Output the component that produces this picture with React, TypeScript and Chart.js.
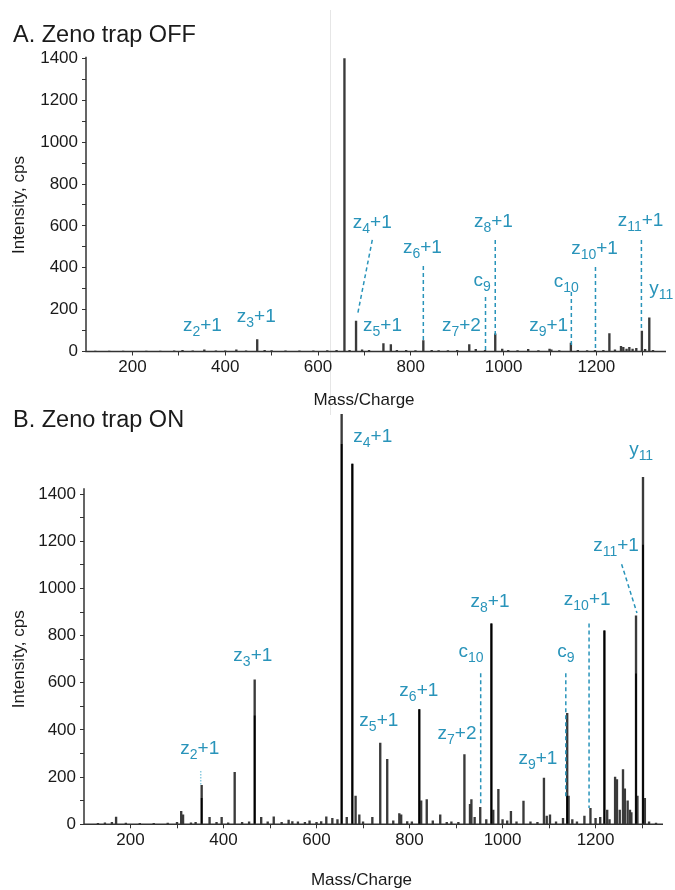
import React, { useEffect, useRef } from 'react';
import { Chart, registerables } from 'chart.js';

Chart.register(...registerables);

const FONT = '"Liberation Sans", Arial, Helvetica, sans-serif';
const TEAL = '#2994ba';
const TEAL_LIGHT = '#8ccbe0';
const TEXT = '#1a1a1a';
const AXIS = '#333333';

// ---------- Panel A: Zeno trap OFF ----------
const offMz = [120, 150, 180, 230, 260, 290, 308, 330, 355, 380, 400, 424, 445, 469, 485, 500, 530, 560, 590, 620, 640, 657, 668, 682, 695, 710, 741, 757, 770, 790, 810, 827, 845, 860, 880, 900, 926, 940, 960, 982, 997, 1010, 1030, 1053, 1075, 1099, 1103, 1120, 1145, 1160, 1180, 1197, 1215, 1228, 1240, 1253, 1258, 1265, 1271, 1278, 1286, 1298, 1305, 1314, 1322];
const offIntensity = [2, 2, 2, 2, 2, 3, 5, 3, 8, 3, 3, 8, 3, 57, 5, 4, 3, 3, 3, 4, 5, 1400, 6, 145, 8, 5, 38, 33, 6, 5, 4, 52, 6, 4, 4, 5, 33, 10, 6, 84, 12, 5, 4, 10, 4, 12, 8, 4, 40, 5, 4, 6, 6, 86, 8, 25, 20, 12, 20, 12, 15, 97, 10, 161, 6];

// ---------- Panel B: Zeno trap ON ----------
const onMz = [130, 145, 160, 169, 190, 220, 250, 280, 300, 309, 313, 330, 340, 353, 370, 385, 396, 410, 424, 440, 455, 467, 481, 495, 508, 525, 540, 548, 560, 575, 585, 600, 610, 621, 634, 645, 654, 665, 677, 684, 692, 700, 720, 737, 752, 765, 778, 782, 795, 805, 821, 825, 837, 850, 866, 880, 890, 905, 918, 930, 933, 940, 952, 965, 976, 980, 991, 1000, 1010, 1018, 1030, 1045, 1060, 1075, 1089, 1095, 1102, 1115, 1130, 1139, 1142, 1150, 1160, 1176, 1189, 1200, 1210, 1219, 1225, 1230, 1242, 1246, 1252, 1259, 1263, 1269, 1274, 1277, 1287, 1290, 1302, 1306, 1315, 1330];
const onIntensity = [4, 6, 8, 31, 5, 4, 4, 5, 8, 55, 40, 6, 8, 165, 30, 8, 30, 6, 220, 8, 10, 613, 30, 10, 32, 8, 18, 12, 10, 8, 15, 8, 12, 32, 25, 20, 1738, 30, 1527, 120, 40, 10, 30, 344, 275, 15, 45, 40, 12, 10, 486, 100, 105, 15, 40, 8, 10, 8, 296, 85, 105, 30, 72, 20, 850, 60, 148, 20, 15, 55, 10, 98, 10, 8, 196, 35, 40, 10, 25, 470, 120, 20, 10, 35, 68, 25, 30, 820, 60, 20, 200, 190, 60, 232, 150, 100, 60, 50, 884, 120, 1471, 110, 10, 5];
// darker cores of the strongest profile peaks
const onCoreMz = [353, 467, 654, 677, 821, 976, 1139, 1219, 1287, 1302];
const onCoreIntensity = [110, 460, 1611, 1527, 486, 850, 120, 820, 638, 1184];

// ---------- ticks ----------
const xTicks = [200, 300, 400, 500, 600, 700, 800, 900, 1000, 1100, 1200, 1300];
const xTickLabels = [200, 400, 600, 800, 1000, 1200];
const yTicks = [0, 100, 200, 300, 400, 500, 600, 700, 800, 900, 1000, 1100, 1200, 1300, 1400];
const yTickLabels = [0, 200, 400, 600, 800, 1000, 1200, 1400];

// ---------- annotations ----------
type Ann = { base: string; sub: string; suffix: string; mz: number; at: number };
type Leader = { mz1: number; v1: number; mz2: number; v2: number; dotted?: boolean };

const offLabels: Ann[] = [
  { base: 'z', sub: '2', suffix: '+1', mz: 351, at: 117 },
  { base: 'z', sub: '3', suffix: '+1', mz: 467, at: 160 },
  { base: 'z', sub: '4', suffix: '+1', mz: 717, at: 609 },
  { base: 'z', sub: '5', suffix: '+1', mz: 739, at: 117 },
  { base: 'z', sub: '6', suffix: '+1', mz: 825, at: 490 },
  { base: 'z', sub: '7', suffix: '+2', mz: 909, at: 117 },
  { base: 'c', sub: '9', suffix: '', mz: 954, at: 332 },
  { base: 'z', sub: '8', suffix: '+1', mz: 978, at: 614 },
  { base: 'z', sub: '9', suffix: '+1', mz: 1097, at: 117 },
  { base: 'c', sub: '10', suffix: '', mz: 1135, at: 327 },
  { base: 'z', sub: '10', suffix: '+1', mz: 1196, at: 485 },
  { base: 'z', sub: '11', suffix: '+1', mz: 1295, at: 619 },
  { base: 'y', sub: '11', suffix: '', mz: 1340, at: 294 },
];
const offLeaders: Leader[] = [
  { mz1: 717, v1: 533, mz2: 685, v2: 174 },
  { mz1: 827, v1: 408, mz2: 827, v2: 55 },
  { mz1: 961, v1: 260, mz2: 961, v2: 7 },
  { mz1: 982, v1: 533, mz2: 982, v2: 79 },
  { mz1: 1146, v1: 284, mz2: 1146, v2: 31 },
  { mz1: 1198, v1: 404, mz2: 1198, v2: 7 },
  { mz1: 1297, v1: 533, mz2: 1297, v2: 103 },
];

const onLabels: Ann[] = [
  { base: 'z', sub: '2', suffix: '+1', mz: 349, at: 314 },
  { base: 'z', sub: '3', suffix: '+1', mz: 463, at: 708 },
  { base: 'z', sub: '4', suffix: '+1', mz: 721, at: 1636 },
  { base: 'z', sub: '5', suffix: '+1', mz: 734, at: 432 },
  { base: 'z', sub: '6', suffix: '+1', mz: 820, at: 560 },
  { base: 'z', sub: '7', suffix: '+2', mz: 902, at: 377 },
  { base: 'c', sub: '10', suffix: '', mz: 932, at: 725 },
  { base: 'z', sub: '8', suffix: '+1', mz: 973, at: 939 },
  { base: 'z', sub: '9', suffix: '+1', mz: 1076, at: 272 },
  { base: 'c', sub: '9', suffix: '', mz: 1136, at: 728 },
  { base: 'z', sub: '10', suffix: '+1', mz: 1182, at: 947 },
  { base: 'z', sub: '11', suffix: '+1', mz: 1244, at: 1175 },
  { base: 'y', sub: '11', suffix: '', mz: 1298, at: 1581 },
];
const onLeaders: Leader[] = [
  { mz1: 1256, v1: 1103, mz2: 1289, v2: 896 },
  { mz1: 1186, v1: 851, mz2: 1186, v2: 69 },
  { mz1: 953, v1: 640, mz2: 953, v2: 82 },
  { mz1: 1136, v1: 640, mz2: 1136, v2: 116 },
  { mz1: 351, v1: 226, mz2: 351, v2: 166, dotted: true },
];

type PanelProps = {
  title: string;
  titleY: number;
  top: number;
  height: number;
  mz: number[];
  inten: number[];
  coreMz: number[];
  coreInten: number[];
  xMax: number;
  yMax: number;
  yAxisTop: number;
  padTop: number;
  padRight: number;
  yWidth: number;
  xHeight: number;
  xTitleDy: number;
  labels: Ann[];
  leaders: Leader[];
};

function Panel(p: PanelProps) {
  const ref = useRef<HTMLCanvasElement>(null);
  useEffect(() => {
    const decor = {
      id: 'decor',
      afterDatasetsDraw(chart: any) {
        const { ctx, chartArea, scales } = chart;
        const x = scales.x;
        const y = scales.y;
        ctx.save();
        // axis lines
        ctx.strokeStyle = AXIS;
        ctx.lineWidth = 1.5;
        ctx.setLineDash([]);
        ctx.beginPath();
        ctx.moveTo(chartArea.left, y.getPixelForValue(0));
        ctx.lineTo(chartArea.right, y.getPixelForValue(0));
        ctx.moveTo(chartArea.left, y.getPixelForValue(0) + 0.75);
        ctx.lineTo(chartArea.left, y.getPixelForValue(p.yAxisTop));
        ctx.stroke();

        // leaders
        p.leaders.forEach((l) => {
          ctx.strokeStyle = l.dotted ? TEAL_LIGHT : TEAL;
          ctx.lineWidth = 1.5;
          ctx.setLineDash(l.dotted ? [1.5, 1.5] : [4, 3]);
          ctx.beginPath();
          ctx.moveTo(x.getPixelForValue(l.mz1), y.getPixelForValue(l.v1));
          ctx.lineTo(x.getPixelForValue(l.mz2), y.getPixelForValue(l.v2));
          ctx.stroke();
        });
        ctx.setLineDash([]);

        // labels with subscripts
        const mainF = `19px ${FONT}`;
        const subF = `14px ${FONT}`;
        ctx.fillStyle = TEAL;
        ctx.textBaseline = 'alphabetic';
        ctx.textAlign = 'left';
        p.labels.forEach((a) => {
          ctx.font = mainF;
          const w1 = ctx.measureText(a.base).width;
          const w3 = ctx.measureText(a.suffix).width;
          ctx.font = subF;
          const w2 = ctx.measureText(a.sub).width;
          const cx = x.getPixelForValue(a.mz);
          const cy = y.getPixelForValue(a.at);
          const base = cy + 4;
          let sx = cx - (w1 + w2 + w3) / 2;
          ctx.font = mainF;
          ctx.fillText(a.base, sx, base);
          sx += w1;
          ctx.font = subF;
          ctx.fillText(a.sub, sx, base + 5);
          sx += w2;
          ctx.font = mainF;
          ctx.fillText(a.suffix, sx, base);
        });

        // axis titles
        ctx.fillStyle = TEXT;
        ctx.font = `17px ${FONT}`;
        ctx.textAlign = 'center';
        ctx.textBaseline = 'middle';
        ctx.fillText('Mass/Charge', (chartArea.left + chartArea.right) / 2 - 12, y.getPixelForValue(0) + p.xTitleDy);
        const ymid = (y.getPixelForValue(0) + y.getPixelForValue(1400)) / 2;
        ctx.save();
        ctx.translate(19, ymid);
        ctx.rotate(-Math.PI / 2);
        ctx.fillText('Intensity, cps', 0, 0);
        ctx.restore();

        // panel title
        ctx.textAlign = 'left';
        ctx.textBaseline = 'alphabetic';
        ctx.font = `23.5px ${FONT}`;
        ctx.fillText(p.title, 13, p.titleY);
        ctx.restore();
      },
    };

    const chart = new Chart(ref.current as HTMLCanvasElement, {
      type: 'bar',
      data: {
        datasets: [
          {
            data: p.coreMz.map((m, i) => ({ x: m, y: p.coreInten[i] })),
            backgroundColor: '#000000',
            barThickness: 1,
          },
          {
            data: p.mz.map((m, i) => ({ x: m, y: p.inten[i] })),
            backgroundColor: '#3a3a3a',
            barThickness: 1.7,
          },
        ],
      },
      options: {
        responsive: false,
        animation: false,
        devicePixelRatio: 1,
        layout: { padding: { top: p.padTop, right: p.padRight, left: 0, bottom: 0 } },
        plugins: { legend: { display: false }, tooltip: { enabled: false } },
        datasets: { bar: { grouped: false } },
        scales: {
          x: {
            type: 'linear',
            min: 100,
            max: p.xMax,
            offset: false,
            border: { display: false },
            grid: { offset: false, drawOnChartArea: false, drawTicks: true, tickLength: 4, color: AXIS, lineWidth: 1 },
            ticks: {
              autoSkip: false,
              maxRotation: 0,
              padding: 2,
              color: TEXT,
              font: { family: FONT, size: 17 },
              callback: (v: any) => (xTickLabels.includes(Number(v)) ? String(v) : ''),
            },
            afterBuildTicks: (s: any) => {
              s.ticks = xTicks.map((v) => ({ value: v }));
            },
            afterFit: (s: any) => {
              s.height = p.xHeight;
            },
          },
          y: {
            type: 'linear',
            min: 0,
            max: p.yMax,
            border: { display: false },
            grid: { drawOnChartArea: false, drawTicks: true, tickLength: 4, color: AXIS, lineWidth: 1 },
            ticks: {
              autoSkip: false,
              padding: 4,
              color: TEXT,
              font: { family: FONT, size: 17 },
              callback: (v: any) => (yTickLabels.includes(Number(v)) ? String(v) : ''),
            },
            afterBuildTicks: (s: any) => {
              s.ticks = yTicks.map((v) => ({ value: v }));
            },
            afterFit: (s: any) => {
              s.width = p.yWidth;
            },
          },
        },
      } as any,
      plugins: [decor],
    });
    return () => chart.destroy();
  }, []);
  return (
    <canvas
      ref={ref}
      width={675}
      height={p.height}
      style={{ position: 'absolute', left: 0, top: p.top, width: 675, height: p.height }}
    />
  );
}

export default function App() {
  return (
    <div style={{ position: 'absolute', left: 0, top: 0, width: 675, height: 890, background: '#fff', overflow: 'hidden' }}>
      <div style={{ position: 'absolute', left: 330, top: 10, width: 1, height: 405, background: '#e6e6e6' }} />
      <Panel
        title="A. Zeno trap OFF"
        titleY={42}
        top={0}
        height={410}
        mz={offMz}
        inten={offIntensity}
        coreMz={[]}
        coreInten={[]}
        xMax={1350}
        yMax={1410}
        yAxisTop={1408}
        padTop={56.4}
        padRight={9}
        yWidth={86}
        xHeight={58.5}
        xTitleDy={49}
        labels={offLabels}
        leaders={offLeaders}
      />
      <Panel
        title="B. Zeno trap ON"
        titleY={32}
        top={395}
        height={495}
        mz={onMz}
        inten={onIntensity}
        coreMz={onCoreMz}
        coreInten={onCoreIntensity}
        xMax={1345}
        yMax={1760}
        yAxisTop={1425}
        padTop={12.5}
        padRight={12}
        yWidth={84}
        xHeight={65.7}
        xTitleDy={56}
        labels={onLabels}
        leaders={onLeaders}
      />
    </div>
  );
}
